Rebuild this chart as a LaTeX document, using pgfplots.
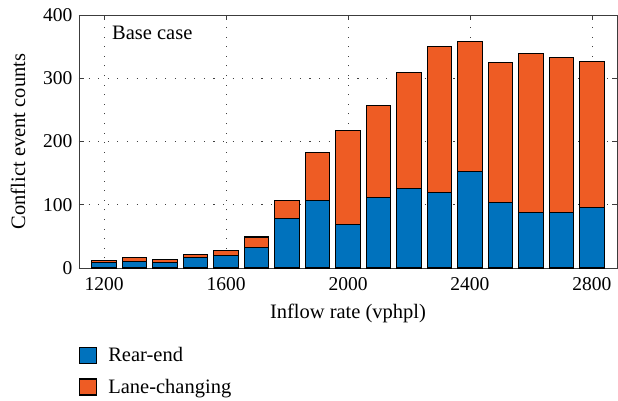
\documentclass[border=0pt]{standalone}
\usepackage{fontspec}
\setmainfont{Liberation Serif}
\usepackage{pgfplots}
\pgfplotsset{compat=1.18}
\usepackage{pgfplotstable}

\definecolor{rearblue}{RGB}{0,114,189}
\definecolor{laneorange}{RGB}{238,92,36}
\definecolor{axisgray}{RGB}{60,60,60}

% conflict counts per inflow rate
\pgfplotstableread{
rate rear lane
1200 8   4
1300 10  6
1400 9   5
1500 16  5
1600 20  7
1700 33  16
1800 78  29
1900 107 76
2000 69  148
2100 111 146
2200 126 183
2300 119 231
2400 153 205
2500 103 222
2600 88  251
2700 88  245
2800 95  232
}\conflicts

\begin{document}
\begin{tikzpicture}
\begin{axis}[
  at={(0pt,0pt)}, anchor=south west,
  scale only axis,
  width=538pt, height=253pt,
  font=\fontsize{20.5}{24}\selectfont,
  tick label style={font=\fontsize{19.5}{23}\selectfont},
  /pgf/number format/assume math mode=true,
  ybar stacked,
  bar width=80,
  xmin=1118, xmax=2882,
  ymin=0, ymax=400,
  xtick={1200,1600,...,2800},
  ytick={0,100,...,400},
  x tick label style={/pgf/number format/1000 sep={}, yshift=-6pt},
  y tick label style={xshift=-3pt},
  tick align=inside,
  major tick length=5pt,
  xtick pos=both, ytick pos=both,
  axis line style={axisgray, line width=0.9pt},
  tick style={axisgray, line width=0.7pt},
  grid=major,
  major grid style={black!75, line width=0.9pt, dash pattern=on 1.1pt off 8.5pt},
  xlabel={Inflow rate (vphpl)},
  ylabel={Conflict event counts},
  xlabel style={yshift=-7pt},
  ylabel style={yshift=11pt},
  legend style={at={(0,-0.305)}, anchor=north west, draw=none, fill=none,
    font=\fontsize{20.5}{24}\selectfont, row sep=12pt, column sep=9pt,
    inner sep=0pt},
  legend cell align=left,
  legend image code/.code={\draw[#1, line width=1.1pt] (-1pt,-8pt) rectangle (16pt,8pt);},
]
\addplot[fill=rearblue, draw=black, line width=1.1pt] table[x=rate, y=rear] {\conflicts};
\addplot[fill=laneorange, draw=black, line width=1.1pt] table[x=rate, y=lane] {\conflicts};
\legend{Rear-end, Lane-changing}
\node[anchor=west, inner sep=0pt] at (axis cs:1226,372) {Base case};
\end{axis}
\path[use as bounding box] (-79pt,-132pt) rectangle (539pt,268pt);
\end{tikzpicture}
\end{document}
